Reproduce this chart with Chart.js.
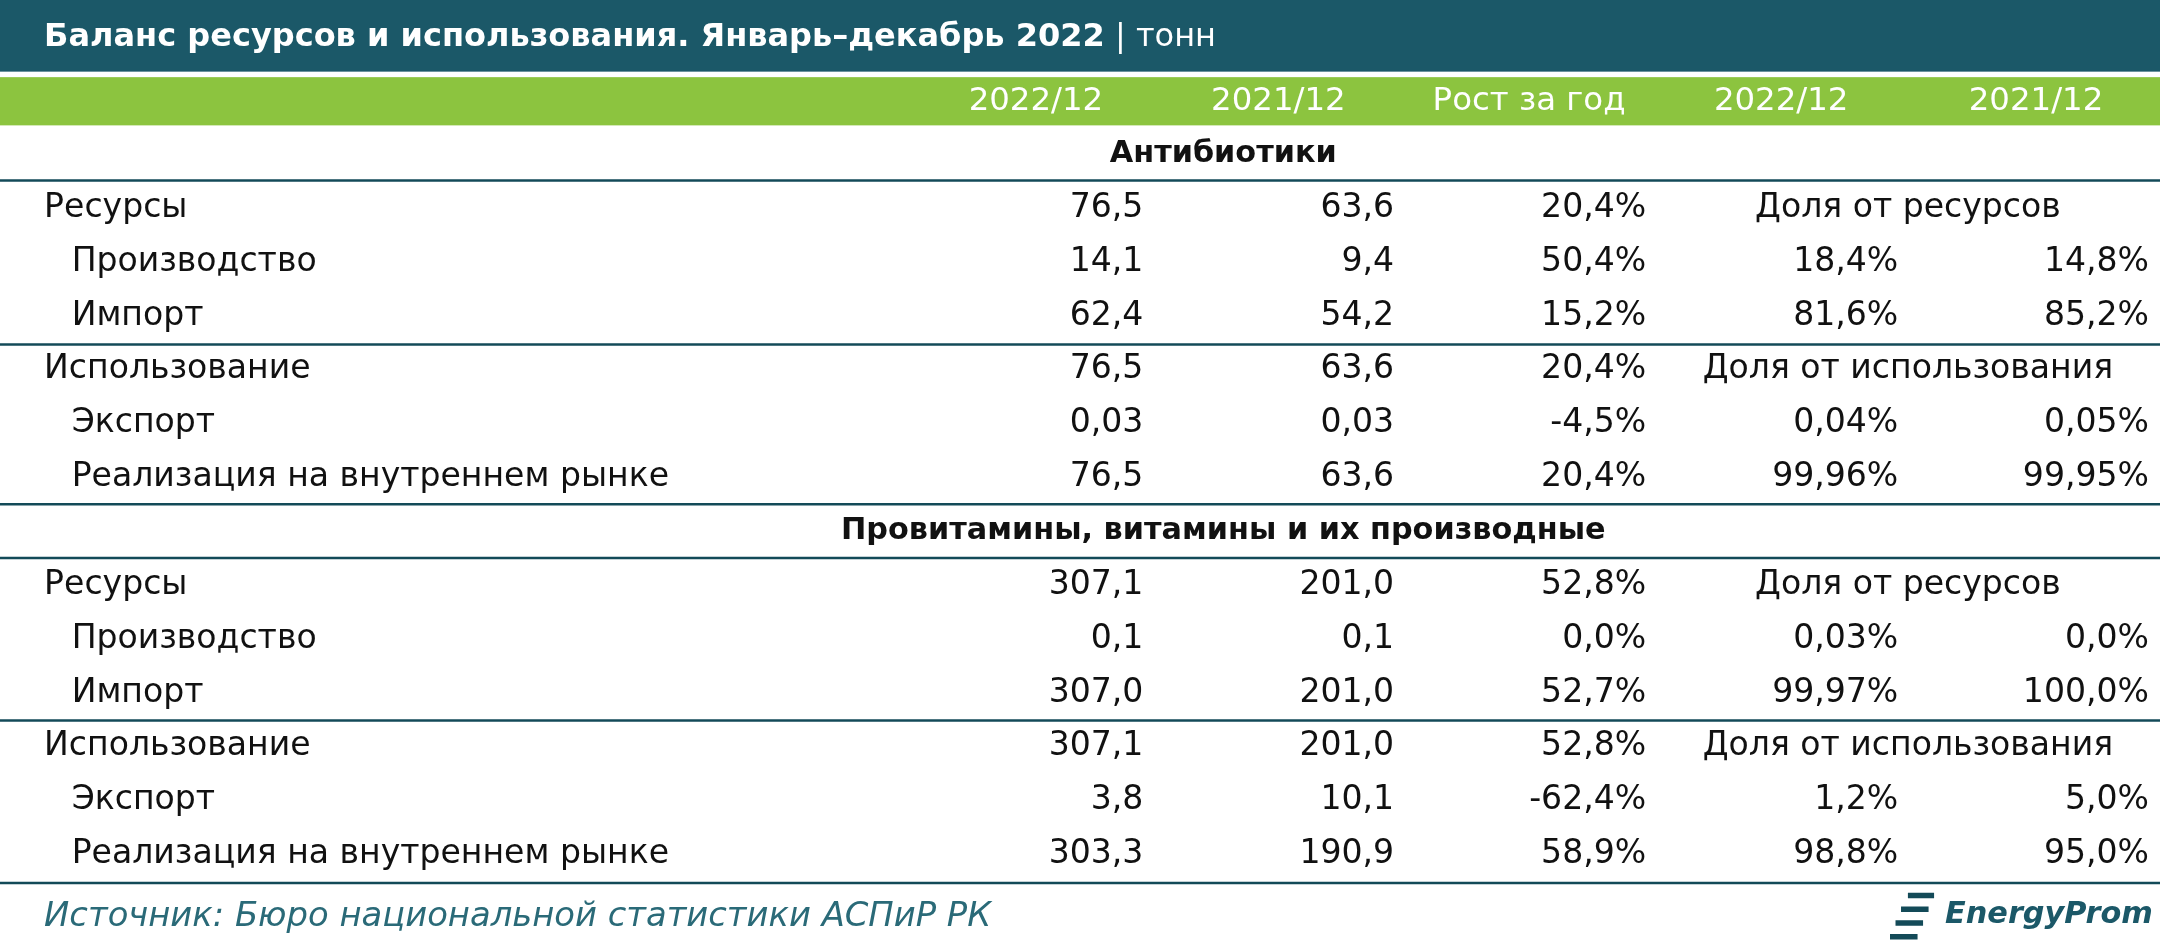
<!DOCTYPE html>
<html><head><meta charset="utf-8">
<script src="https://cdn.jsdelivr.net/npm/chart.js@4/dist/chart.umd.min.js"></script>
<style>html,body{margin:0;padding:0;background:#fff}#w{width:2160px;height:952px}</style>
</head><body><div id="w"><canvas id="c"></canvas></div>
<script>
const title = "Баланс ресурсов и использования. Январь–декабрь 2022";
const unit = " | тонн";
const headers = ["2022/12","2021/12","Рост за год","2022/12","2021/12"];
const rowLabels = ["Антибиотики","Ресурсы","Производство","Импорт","Использование","Экспорт","Реализация на внутреннем рынке",
 "Провитамины, витамины и их производные","Ресурсы","Производство","Импорт","Использование","Экспорт","Реализация на внутреннем рынке"];
const rowLevel = [-1,0,1,1,0,1,1,-1,0,1,1,0,1,1];
const val2022 = ["","76,5","14,1","62,4","76,5","0,03","76,5","","307,1","0,1","307,0","307,1","3,8","303,3"];
const val2021 = ["","63,6","9,4","54,2","63,6","0,03","63,6","","201,0","0,1","201,0","201,0","10,1","190,9"];
const growth = ["","20,4%","50,4%","15,2%","20,4%","-4,5%","20,4%","","52,8%","0,0%","52,7%","52,8%","-62,4%","58,9%"];
const share2022 = ["","Доля от ресурсов","18,4%","81,6%","Доля от использования","0,04%","99,96%","","Доля от ресурсов","0,03%","99,97%","Доля от использования","1,2%","98,8%"];
const share2021 = ["","","14,8%","85,2%","","0,05%","99,95%","","","0,0%","100,0%","","5,0%","95,0%"];
const source = "Источник: Бюро национальной статистики АСПиР РК";

const F = "'DejaVu Sans', Verdana, sans-serif";
const TEAL = "#1b5868", GREEN = "#8cc43f";
const tablePlugin = {
 id:'table',
 afterDraw(chart){
  const ctx = chart.ctx, X = chart.scales.x, Y = chart.scales.y;
  const px = v=>X.getPixelForValue(v), py = v=>Y.getPixelForValue(v);
  const k = (px(1568)-px(0))/1568;
  const fs = s=>(s*k).toFixed(1)+"px "+F;
  ctx.save();
  ctx.fillStyle = TEAL; ctx.fillRect(px(0),py(0),px(1568)-px(0),py(52)-py(0));
  ctx.fillStyle = GREEN; ctx.fillRect(px(0),py(56),px(1568)-px(0),py(91)-py(56));
  ctx.textBaseline = "middle";
  ctx.fillStyle = "#fff"; ctx.textAlign = "left";
  ctx.font = "bold "+fs(23.2);
  ctx.fillText(title, px(32), py(27));
  const tw = ctx.measureText(title).width;
  ctx.font = fs(23.2); ctx.fillText(unit, px(32)+tw, py(27));
  ctx.textAlign = "center"; ctx.font = fs(23.5);
  const hx = [752,928,1110,1293,1478];
  headers.forEach((h,i)=>ctx.fillText(h, px(hx[i]), py(74)));
  const r0 = 112, dy = 39.1;
  const rights = [830,1012,1195,1378,1560];
  const cols = [val2022,val2021,growth,share2022,share2021];
  rowLabels.forEach((lab,i)=>{
   const y = py(r0+i*dy);
   ctx.fillStyle = "#111";
   if(rowLevel[i]<0){ ctx.font="bold "+fs(22); ctx.textAlign="center"; ctx.fillText(lab, px(888), y); return; }
   ctx.font = fs(24); ctx.textAlign="left";
   ctx.fillText(lab, px(rowLevel[i]?52:32), y);
   cols.forEach((c,j)=>{
     const t = c[i]; if(!t) return;
     if(j===3 && rowLevel[i]===0){ ctx.textAlign="center"; ctx.fillText(t, px(1385), y); }
     else { ctx.textAlign="right"; ctx.fillText(t, px(rights[j]), y); }
   });
  });
  ctx.strokeStyle = "#134a58"; ctx.lineWidth = Math.max(1,1.8*k);
  [131,250,366,405,523,641].forEach(v=>{ctx.beginPath();ctx.moveTo(px(0),py(v));ctx.lineTo(px(1568),py(v));ctx.stroke();});
  ctx.fillStyle = "#2a6a78"; ctx.textAlign="left"; ctx.font = "italic "+fs(24.5);
  ctx.fillText(source, px(32), py(666));
  ctx.fillStyle = "#1b5868"; ctx.font = "bold italic "+fs(22);
  ctx.fillText("EnergyProm", px(1412), py(664));
  ctx.beginPath();
  [[1385,650,1404,650],[1380,660,1400,660],[1376,670,1396,670],[1372,680,1392,680]].forEach(l=>{ctx.moveTo(px(l[0]),py(l[1]));ctx.lineTo(px(l[2]),py(l[3]));});
  ctx.lineWidth = 4*k; ctx.stroke();
  ctx.restore();
 }
};
new Chart(document.getElementById('c'),{
 type:'scatter',
 data:{datasets:[{data:[]}]},
 options:{responsive:true,maintainAspectRatio:false,animation:false,
  layout:{padding:0},
  plugins:{legend:{display:false},tooltip:{enabled:false}},
  scales:{x:{type:'linear',min:0,max:1568,display:false},y:{type:'linear',min:0,max:691,reverse:true,display:false}}},
 plugins:[tablePlugin]
});
</script></body></html>
